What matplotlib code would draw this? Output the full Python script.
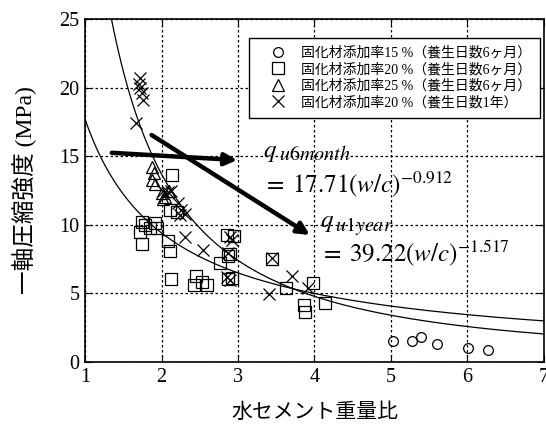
import matplotlib
matplotlib.use("Agg")
import matplotlib.pyplot as plt
import numpy as np

plt.rcParams['font.family'] = ['Liberation Serif', 'Noto Sans CJK JP']
plt.rcParams['mathtext.fontset'] = 'stix'

# 固化材添加率15 %（養生日数6ヶ月）
x15 = [5.02, 5.28, 5.39, 5.60, 6.01, 6.27]
y15 = [1.55, 1.55, 1.84, 1.31, 1.02, 0.87]

# 固化材添加率20 %（養生日数6ヶ月）
x20 = [2.14, 2.11, 2.20, 1.74, 1.78, 1.92, 1.94, 1.72, 1.85, 1.74, 2.08, 2.11,
       2.12, 2.45, 2.42, 2.53, 2.59, 2.85, 2.95, 2.87, 2.90, 2.76, 2.92, 2.87,
       3.44, 3.63, 3.98, 3.86, 3.88, 4.14]
y20 = [13.6, 11.1, 10.95, 10.2, 10.0, 10.1, 9.74, 9.5, 9.8, 8.58, 8.84, 8.11,
       6.03, 6.27, 5.61, 5.85, 5.61, 9.26, 9.18, 7.73, 7.9, 7.19, 6.1, 6.05,
       7.49, 5.42, 5.78, 4.15, 3.67, 4.28]

# 固化材添加率25 %（養生日数6ヶ月）
x25 = [1.88, 1.90, 1.87, 1.92, 2.00, 2.05, 2.10, 2.02]
y25 = [14.2, 13.8, 13.3, 13.0, 12.3, 12.0, 12.5, 11.9]

# 固化材添加率20 %（養生日数1年）
x1y = [1.72, 1.70, 1.72, 1.74, 1.76, 1.67, 2.02, 2.09, 2.13, 2.22, 2.26, 2.24,
       2.31, 2.31, 2.54, 2.89, 2.87, 2.85, 2.90, 3.44, 3.40, 3.71, 3.92, 2.92]
y1y = [20.7, 20.3, 19.95, 19.6, 19.1, 17.4, 12.5, 12.4, 12.5, 11.6, 11.1, 10.7,
       10.8, 9.13, 8.16, 9.13, 7.92, 6.22, 5.98, 7.56, 4.96, 6.27, 5.37, 8.9]

# 近似式 q = a (w/c)^b
fit_6month = (17.71, -0.912)
fit_1year = (39.22, -1.517)

labels = ['固化材添加率15 %（養生日数6ヶ月）',
          '固化材添加率20 %（養生日数6ヶ月）',
          '固化材添加率25 %（養生日数6ヶ月）',
          '固化材添加率20 %（養生日数1年）']

fig = plt.figure(figsize=(5.46, 4.26), dpi=100)
ax = fig.add_axes([0.1557, 0.150, 0.8406, 0.8054])

mk = dict(linestyle='none', color='k', markerfacecolor='none', markeredgewidth=0.9)
ax.plot(x15, y15, marker='o', markersize=7, label=labels[0], **mk)
ax.plot(x20, y20, marker='s', markersize=8, label=labels[1], **mk)
ax.plot(x25, y25, marker='^', markersize=8, label=labels[2], **mk)
ax.plot(x1y, y1y, marker='x', markersize=9, label=labels[3], **mk)

xs = np.linspace(1, 7, 300)
ax.plot(xs, fit_6month[0] * xs ** fit_6month[1], color='k', lw=0.9)
ax.plot(xs, fit_1year[0] * xs ** fit_1year[1], color='k', lw=0.9)

arrow = dict(arrowstyle='-|>', lw=3.2, color='k', mutation_scale=18, shrinkA=0, shrinkB=0)
ax.annotate('', xy=(2.99, 14.72), xytext=(1.35, 15.25), arrowprops=arrow)
ax.annotate('', xy=(3.94, 9.26), xytext=(1.87, 16.55), arrowprops=arrow)


def q_label(x, y, sub):
    ax.text(x, y, r'$q$', fontsize=18, va='center', ha='left')
    ax.annotate(r'$%s$' % sub, xy=(x, y), xytext=(11, -1.5), textcoords='offset points',
                fontsize=14.5, va='center', ha='left')


q_label(3.33, 15.2, 'u6month')
ax.text(3.33, 13.0, r'$=\;17.71(w/c)^{-0.912}$', fontsize=18, va='center', ha='left')
q_label(4.07, 10.1, 'u1year')
ax.text(4.07, 7.95, r'$=\;39.22(w/c)^{-1.517}$', fontsize=18, va='center', ha='left')

ax.set_xlim(1, 7)
ax.set_ylim(0, 25)
ax.set_xticks([1, 2, 3, 4, 5, 6, 7])
ax.set_yticks([0, 5, 10, 15, 20, 25])
ax.grid(True, color='k', linestyle=(0, (2, 2)), linewidth=0.9)
ax.tick_params(direction='in', top=True, right=True, length=5, labelsize=14.5, pad=4)
for s in ax.spines.values():
    s.set_linewidth(1.2)

ax.set_xlabel('水セメント重量比', fontsize=15, labelpad=12)
ax.set_ylabel('一軸圧縮強度 (MPa)', fontsize=17, labelpad=16)

leg = ax.legend(loc='upper right', bbox_to_anchor=(0.991, 0.945), fontsize=10,
                frameon=True, fancybox=False, edgecolor='k', framealpha=1,
                labelspacing=0.22, handlelength=3.0, handletextpad=0.2,
                borderpad=0.6, borderaxespad=0)
leg.get_frame().set_linewidth(1.0)

plt.savefig('out.png', dpi=100)
plt.close()
